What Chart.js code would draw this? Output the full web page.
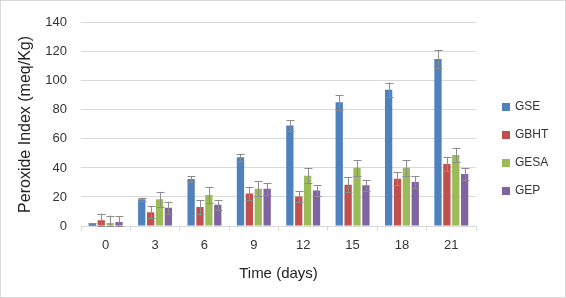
<!DOCTYPE html>
<html>
<head>
<meta charset="utf-8">
<script src="https://cdn.jsdelivr.net/npm/chart.js@4"></script>
<style>
  html, body { margin: 0; padding: 0; background: #fff; }
  #wrap { width: 566px; height: 298px; box-sizing: border-box; border: 1px solid #d9d9d9; }
  #chart { display: block; }
</style>
</head>
<body>
<div id="wrap"><canvas id="chart" width="564" height="296"></canvas></div>
<script>
// Storage time (days)
var days = ['0', '3', '6', '9', '12', '15', '18', '21'];

// Peroxide index means (meq/Kg)
var gse  = [1.5, 18.4, 32.4, 47.3, 69.3, 85.2, 93.8, 115];
var gbht = [4.0, 9.5, 13.1, 22.4, 20.4, 28.5, 32.6, 42.8];
var gesa = [2.0, 18.4, 21.3, 25.6, 34.7, 40.1, 40.1, 48.9];
var gep  = [2.7, 12.5, 14.7, 25.6, 24.5, 28.0, 30.4, 35.8];

// Standard deviations
var gseErr  = [0.5, 1.1, 2.0, 2.5, 3.6, 5.0, 5.0, 6.0];
var gbhtErr = [4.6, 4.3, 4.6, 4.6, 3.6, 5.0, 4.6, 4.8];
var gesaErr = [5.2, 5.1, 5.7, 5.2, 5.2, 5.4, 5.4, 5.0];
var gepErr  = [4.1, 4.3, 3.4, 4.1, 3.6, 3.7, 4.0, 4.1];

var seriesNames = ['GSE', 'GBHT', 'GESA', 'GEP'];
var seriesColors = ['#4F81BD', '#C0504D', '#9BBB59', '#8064A2'];
var yTicks = [0, 20, 40, 60, 80, 100, 120, 140];

var FONT = '"Liberation Sans", Arial, sans-serif';

// error bars (both directions, with caps)
var errorBars = {
    id: 'errorBars',
    afterDatasetsDraw: function (chart) {
        var ctx = chart.ctx;
        var y = chart.scales.y;
        ctx.save();
        ctx.strokeStyle = '#8c8c8c';
        ctx.lineWidth = 1;
        chart.data.datasets.forEach(function (ds, i) {
            var meta = chart.getDatasetMeta(i);
            meta.data.forEach(function (bar, j) {
                var v = ds.data[j], e = ds.errors[j];
                var x = Math.round(bar.x) + 0.5;
                var top = y.getPixelForValue(v + e);
                var bot = y.getPixelForValue(Math.max(v - e, 0));
                var half = 4;
                ctx.beginPath();
                ctx.moveTo(x, top); ctx.lineTo(x, bot);
                ctx.moveTo(x - half, Math.round(top) + 0.5); ctx.lineTo(x + half, Math.round(top) + 0.5);
                ctx.moveTo(x - half, Math.round(bot) + 0.5); ctx.lineTo(x + half, Math.round(bot) + 0.5);
                ctx.stroke();
            });
        });
        ctx.restore();
    }
};

// legend on the right, drawn like the spreadsheet one
var sideLegend = {
    id: 'sideLegend',
    afterDraw: function (chart) {
        var ctx = chart.ctx;
        ctx.save();
        ctx.font = '12px ' + FONT;
        ctx.textBaseline = 'middle';
        ctx.textAlign = 'left';
        chart.data.datasets.forEach(function (ds, i) {
            var cy = 106 + i * 28;
            ctx.fillStyle = ds.backgroundColor;
            ctx.fillRect(501, cy - 4, 8, 8);
            ctx.fillStyle = '#333';
            ctx.fillText(ds.label, 514, cy);
        });
        ctx.restore();
    }
};

var allValues = [gse, gbht, gesa, gep];
var allErrors = [gseErr, gbhtErr, gesaErr, gepErr];

var datasets = seriesNames.map(function (name, i) {
    return {
        label: name,
        data: allValues[i],
        errors: allErrors[i],
        backgroundColor: seriesColors[i],
        barPercentage: 0.82,
        categoryPercentage: 0.72
    };
});

new Chart(document.getElementById('chart'), {
    type: 'bar',
    data: { labels: days, datasets: datasets },
    options: {
        responsive: false,
        animation: false,
        layout: { padding: { left: 0, right: 89, top: 18, bottom: 0 } },
        plugins: {
            legend: { display: false },
            tooltip: { enabled: false }
        },
        scales: {
            x: {
                grid: { drawOnChartArea: false, color: '#d9d9d9', tickLength: 5 },
                border: { color: '#d9d9d9' },
                ticks: { color: '#333', font: { family: FONT, size: 13 }, padding: 7 },
                title: { display: true, text: 'Time (days)', color: '#222', font: { family: FONT, size: 15 }, padding: 14 },
                afterFit: function (s) { s.height = 71; }
            },
            y: {
                min: 0,
                max: 140,
                afterBuildTicks: function (s) { s.ticks = yTicks.map(function (v) { return { value: v }; }); },
                grid: { color: '#d9d9d9', drawTicks: false },
                border: { display: false },
                ticks: { color: '#333', font: { family: FONT, size: 13 }, padding: 14 },
                title: { display: true, text: 'Peroxide Index (meq/Kg)', color: '#222', font: { family: FONT, size: 16 }, padding: 15 },
                afterFit: function (s) { s.width = 80; }
            }
        }
    },
    plugins: [errorBars, sideLegend]
});
</script>
</body>
</html>
